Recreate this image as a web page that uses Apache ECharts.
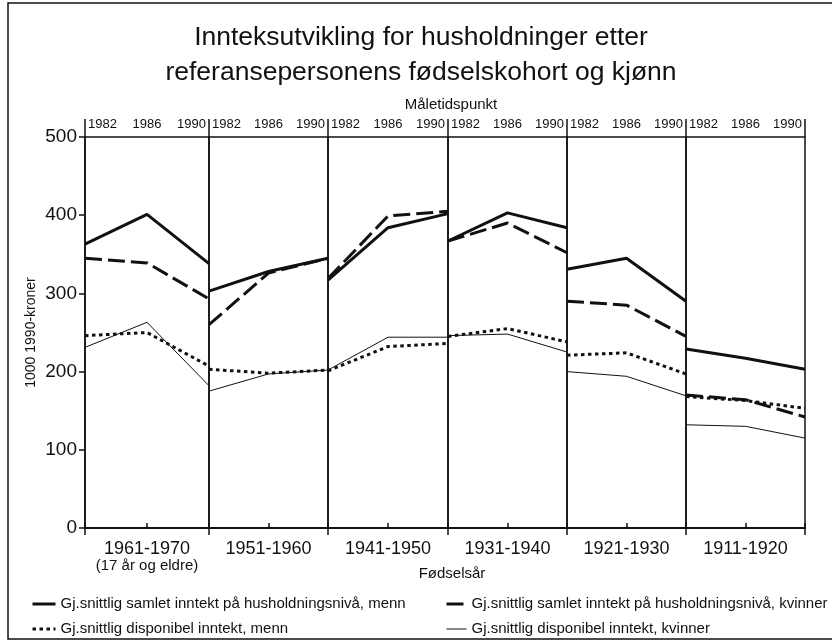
<!DOCTYPE html>
<html>
<head>
<meta charset="utf-8">
<script src="https://cdn.jsdelivr.net/npm/echarts@6/dist/echarts.min.js"></script>
<style>
  html, body { margin: 0; padding: 0; background: #fff; }
  #chart { width: 832px; height: 643px; }
</style>
</head>
<body>
<div id="chart"></div>
<script>
// Måletidspunkt (x inside each panel)
const years = [1982, 1986, 1990]
// Fødselsår-kohorter, one panel each
const cohorts = ['1961-1970', '1951-1960', '1941-1950', '1931-1940', '1921-1930', '1911-1920']
const yTicks = [0, 100, 200, 300, 400, 500]

// 1000 1990-kroner, one row per cohort (1982, 1986, 1990)
const samletMenn = [
  [363, 401, 338],
  [303, 328, 345],
  [317, 384, 402],
  [367, 403, 384],
  [331, 345, 290],
  [229, 217, 203]
]
const samletKvinner = [
  [345, 339, 293],
  [260, 326, 345],
  [319, 399, 405],
  [367, 390, 352],
  [290, 285, 245],
  [170, 164, 142]
]
const dispMenn = [
  [246, 250, 207],
  [203, 198, 202],
  [201, 232, 236],
  [245, 255, 238],
  [221, 224, 197],
  [168, 163, 153]
]
const dispKvinner = [
  [231, 263, 182],
  [175, 197, 202],
  [202, 244, 244],
  [246, 248, 225],
  [200, 194, 169],
  [132, 130, 115]
]

const names = [
  'Gj.snittlig samlet inntekt på husholdningsnivå, menn',
  'Gj.snittlig samlet inntekt på husholdningsnivå, kvinner',
  'Gj.snittlig disponibel inntekt, menn',
  'Gj.snittlig disponibel inntekt, kvinner'
]

const chart = echarts.init(document.getElementById('chart'))

const font = 'Liberation Sans, Arial, sans-serif'
// panel edges in px
const edges = [85, 209, 328, 448, 567, 686, 805]

const grids = []
const xAxes = []
const yAxes = []
const series = []

const lineStyles = [
  { width: 3, type: 'solid' },
  { width: 3, type: [17, 6] },
  { width: 3, type: [3.5, 3.5] },
  { width: 1, type: 'solid' }
]
const seriesData = [samletMenn, samletKvinner, dispMenn, dispKvinner]

cohorts.forEach((c, i) => {
  grids.push({
    left: edges[i],
    width: edges[i + 1] - edges[i],
    top: 137,
    height: 391,
    show: true,
    borderColor: '#111',
    borderWidth: 1.5,
    backgroundColor: 'transparent'
  })
  // top axis with year labels
  xAxes.push({
    gridIndex: i,
    type: 'value',
    position: 'top',
    min: years[0],
    max: years[2],
    interval: 4,
    axisLine: { show: true, lineStyle: { color: '#111', width: 1.5 } },
    axisTick: { show: true, length: 5, lineStyle: { color: '#111', width: 1.5 } },
    axisLabel: {
      show: true,
      color: '#111',
      fontFamily: font,
      fontSize: 13,
      margin: 6,
      alignMinLabel: 'left',
      alignMaxLabel: 'right',
      padding: [0, 3, 0, 3],
      formatter: v => String(v)
    },
    splitLine: { show: false }
  })
  // long separators above the top line
  xAxes.push({
    gridIndex: i,
    type: 'value',
    position: 'top',
    min: years[0],
    max: years[2],
    interval: 8,
    axisLine: { show: false },
    axisTick: { show: true, length: 18, lineStyle: { color: '#111', width: 1.5 } },
    axisLabel: { show: false },
    splitLine: { show: false }
  })
  // bottom axis with cohort name
  xAxes.push({
    gridIndex: i,
    type: 'value',
    position: 'bottom',
    min: years[0],
    max: years[2],
    interval: 8,
    axisLine: { show: true, lineStyle: { color: '#111', width: 1.5 } },
    axisTick: { show: true, length: 7, lineStyle: { color: '#111', width: 1.5 } },
    axisLabel: { show: false },
    splitLine: { show: false },
    name: i === 0 ? '{a|' + c + '}\n{b|(17 år og eldre)}' : '{a|' + c + '}',
    nameLocation: 'middle',
    nameGap: 12,
    nameTextStyle: {
      verticalAlign: 'top',
      rich: {
        a: { fontFamily: font, fontSize: 18, color: '#111', lineHeight: 18 },
        b: { fontFamily: font, fontSize: 15, color: '#111', lineHeight: 16 }
      }
    }
  })
  yAxes.push({
    gridIndex: i,
    type: 'value',
    min: yTicks[0],
    max: yTicks[yTicks.length - 1],
    interval: 100,
    show: i === 0,
    axisLine: { show: true, lineStyle: { color: '#111', width: 1.5 } },
    axisTick: { show: true, length: 6, lineStyle: { color: '#111', width: 1.5 } },
    axisLabel: { color: '#111', fontFamily: font, fontSize: 19, margin: 8 },
    splitLine: { show: false },
    name: i === 0 ? '1000 1990-kroner' : '',
    nameLocation: 'middle',
    nameRotate: 90,
    nameGap: 47,
    nameTextStyle: { color: '#111', fontFamily: font, fontSize: 14 }
  })

  seriesData.forEach((arr, k) => {
    series.push({
      name: names[k],
      type: 'line',
      xAxisIndex: i * 3,
      yAxisIndex: i,
      data: years.map((y, j) => [y, arr[i][j]]),
      symbol: 'none',
      showSymbol: false,
      silent: true,
      lineStyle: Object.assign({ color: '#111', cap: 'butt' }, lineStyles[k]),
      itemStyle: { color: '#111' },
      z: 3
    })
  })
})

const legendText = { fontFamily: font, fontSize: 15, color: '#111', lineHeight: 18 }

const option = {
  backgroundColor: '#fff',
  animation: false,
  title: [
    {
      text: 'Innteksutvikling for husholdninger etter\nreferansepersonens fødselskohort og kjønn',
      left: 416,
      top: 15,
      textAlign: 'center',
      textStyle: { fontFamily: font, fontSize: 26.5, fontWeight: 'normal', color: '#111', lineHeight: 35 }
    },
    {
      text: 'Måletidspunkt',
      left: 446,
      top: 92,
      textAlign: 'center',
      textStyle: { fontFamily: font, fontSize: 15, fontWeight: 'normal', color: '#111' }
    },
    {
      text: 'Fødselsår',
      left: 447,
      top: 561,
      textAlign: 'center',
      textStyle: { fontFamily: font, fontSize: 15, fontWeight: 'normal', color: '#111' }
    }
  ],
  legend: [
    {
      left: 31,
      top: 595,
      padding: 0,
      orient: 'vertical',
      itemWidth: 23,
      itemHeight: 14,
      itemGap: 7,
      selectedMode: false,
      itemStyle: { opacity: 0 },
      lineStyle: { width: 'inherit' },
      data: [names[0], names[2]],
      textStyle: legendText
    },
    {
      left: 445,
      top: 595,
      padding: 0,
      orient: 'vertical',
      itemWidth: 20,
      itemHeight: 14,
      itemGap: 7,
      selectedMode: false,
      itemStyle: { opacity: 0 },
      lineStyle: { width: 'inherit' },
      data: [names[1], names[3]],
      textStyle: legendText
    }
  ],
  graphic: [
    {
      type: 'rect',
      shape: { x: 8, y: 3, width: 840, height: 636 },
      style: { fill: 'none', stroke: '#111', lineWidth: 1.5 },
      silent: true,
      z: -1
    }
  ],
  grid: grids,
  xAxis: xAxes,
  yAxis: yAxes,
  series: series
}

chart.setOption(option)
</script>
</body>
</html>
